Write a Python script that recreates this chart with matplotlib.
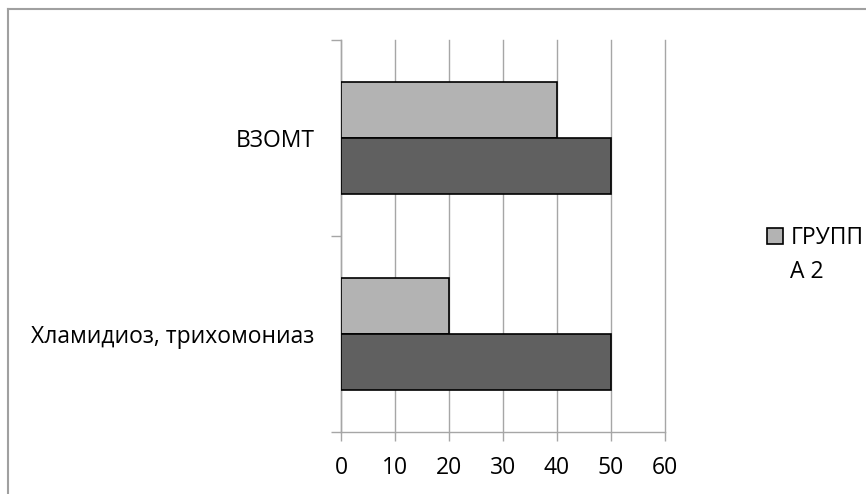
import matplotlib
matplotlib.use("Agg")
import matplotlib.pyplot as plt
from matplotlib.lines import Line2D

plt.rcParams["font.family"] = ["Open Sans", "DejaVu Sans"]

# data
categories = ["Хламидиоз, трихомониаз", "ВЗОМТ"]
group2 = [20, 40]
group1 = [50, 50]
x_ticks = [0, 10, 20, 30, 40, 50, 60]

light = "#b3b3b3"
dark = "#606060"
grid_col = "#a6a6a6"
bar_h = 0.286
fs = 16.5

fig = plt.figure(figsize=(8.66, 4.94), dpi=100)
ax = fig.add_axes([341 / 866, 1 - 432 / 494, 324 / 866, 392 / 494])

pos = list(range(len(categories)))
bars2 = ax.barh([p + bar_h / 2 for p in pos], group2, height=bar_h,
                color=light, edgecolor="black", linewidth=1.2, zorder=3)
ax.barh([p - bar_h / 2 for p in pos], group1, height=bar_h,
        color=dark, edgecolor="black", linewidth=1.2, zorder=3)

ax.set_xlim(0, 60)
ax.set_ylim(-0.5, len(categories) - 0.5)
ax.set_xticks(x_ticks)
ax.set_xticklabels([str(t) for t in x_ticks], fontsize=fs)
ax.xaxis.grid(True, color=grid_col, linewidth=1.0, zorder=0)
for gl in ax.get_xgridlines():
    gl.set_clip_on(False)
ax.tick_params(axis="x", direction="out", length=6.5, width=1.0,
               color=grid_col, pad=11)

# boundary ticks on the category axis, labels in between
ax.set_yticks([p - 0.5 for p in pos] + [len(categories) - 0.5])
ax.set_yticklabels([])
ax.tick_params(axis="y", which="major", direction="out", length=7,
               width=1.0, color=grid_col)
ax.set_yticks(pos, minor=True)
ax.set_yticklabels(categories, minor=True, fontsize=fs)
ax.tick_params(axis="y", which="minor", length=0, pad=19)

for side in ["top", "right"]:
    ax.spines[side].set_visible(False)
for side in ["left", "bottom"]:
    ax.spines[side].set_color(grid_col)
    ax.spines[side].set_linewidth(1.0)

leg = fig.legend([bars2], ["ГРУПП"], loc="center left", frameon=False,
                 bbox_to_anchor=(767 / 866, 1 - 238 / 494), borderpad=0,
                 borderaxespad=0, fontsize=fs, handlelength=0.68,
                 handleheight=0.68, handletextpad=0.35)
fig.text(790 / 866, 1 - 272 / 494, "А 2", fontsize=fs, ha="left", va="center")

# chart frame (cropped at right and bottom)
fig.add_artist(Line2D([8 / 866, 8 / 866], [0, 1 - 9 / 494],
                      transform=fig.transFigure, color="#a0a0a0", linewidth=1.5))
fig.add_artist(Line2D([8 / 866, 1], [1 - 9 / 494, 1 - 9 / 494],
                      transform=fig.transFigure, color="#a0a0a0", linewidth=1.5))

fig.savefig("out.png", dpi=100, facecolor="white")
